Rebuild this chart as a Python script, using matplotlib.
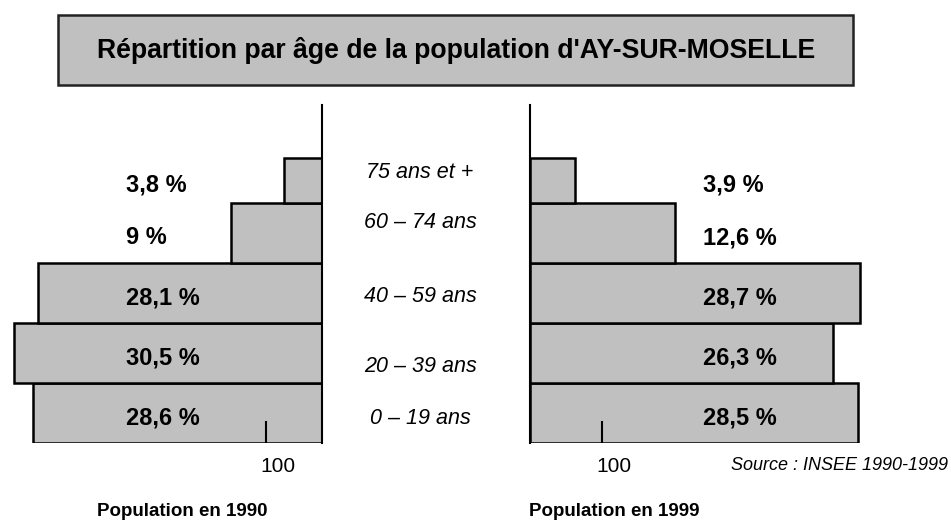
import matplotlib
matplotlib.use("Agg")
import matplotlib.pyplot as plt
from matplotlib.patches import Rectangle
from matplotlib.transforms import ScaledTranslation

plt.rcParams['font.family'] = ['Liberation Sans', 'DejaVu Sans']

# ---------------------------------------------------------------------------
# Data
# ---------------------------------------------------------------------------
age_groups = ['0 – 19 ans', '20 – 39 ans', '40 – 59 ans', '60 – 74 ans', '75 ans et +']
pop_1990 = [512, 546, 503, 161, 68]          # habitants
pop_1999 = [456, 421, 459, 202, 62]
pct_1990 = ['28,6 %', '30,5 %', '28,1 %', '9 %', '3,8 %']
pct_1999 = ['28,5 %', '26,3 %', '28,7 %', '12,6 %', '3,9 %']
tick_value = [100]

title = "Répartition par âge de la population d'AY-SUR-MOSELLE"
source = "Source : INSEE 1990-1999"

# ---------------------------------------------------------------------------
# Layout (pixels of the 951x529 picture)
# ---------------------------------------------------------------------------
W, H = 951, 529
def fx(px): return px / W
def fy(py): return 1 - py / H

bottoms = [0, 20, 40, 60, 80]
heights = [20, 20, 20, 20, 15]
GREY = '#c0c0c0'

fig = plt.figure(figsize=(W / 100, H / 100), dpi=100)

# title box
fig.patches.append(Rectangle((fx(58), fy(85)), fx(853) - fx(58), fy(15) - fy(85),
                             transform=fig.transFigure, facecolor=GREY,
                             edgecolor='#222222', lw=1.8))
fig.text(fx(456), fy(51), title, ha='center', va='center',
         fontsize=19.2, fontweight='bold')

ax_h = (443 - 105) / H
axL = fig.add_axes([0, fy(443), fx(322), ax_h])
axR = fig.add_axes([fx(530), fy(443), fx(951 - 530), ax_h])

# tick labels sit a little to the right of their tick
shift = ScaledTranslation(12 / 100, 0, fig.dpi_scale_trans)

for ax, vals, pcts, xmax, lab_x, side in [
        (axL, pop_1990, pct_1990, 322 / 0.565, 347, 'right'),
        (axR, pop_1999, pct_1999, 421 / 0.72, 240, 'left')]:
    ax.barh(bottoms, vals, height=heights, align='edge', color=GREY,
            edgecolor='black', linewidth=1.8, zorder=1)
    ax.set_ylim(0, 338 / 3)
    if side == 'right':
        ax.set_xlim(xmax, 0)
    else:
        ax.set_xlim(0, xmax)
    for s in ax.spines:
        ax.spines[s].set_visible(s == side)
    ax.spines[side].set_linewidth(1.5)
    ax.set_yticks([])
    ax.set_xticks(tick_value)
    ax.set_xticklabels([str(v) for v in tick_value])
    ax.tick_params(axis='x', direction='in', length=16, width=1.5,
                   labelsize=15, pad=10)
    for t in ax.get_xticklabels():
        t.set_transform(t.get_transform() + shift)
    ax.patch.set_alpha(0)
    for b, h, p in zip(bottoms, heights, pcts):
        ax.text(lab_x, b + h / 2 - 1.5, p, ha='left', va='center',
                fontsize=17, fontweight='bold', zorder=3)

# age group labels in the middle
for lab, py in zip(age_groups, [419, 366, 297, 222, 173]):
    fig.text(fx(420), fy(py), lab, ha='center', va='center',
             fontsize=15.5, style='italic')

fig.text(fx(182), fy(511), 'Population en 1990', ha='center', va='center',
         fontsize=13.5, fontweight='bold')
fig.text(fx(614), fy(511), 'Population en 1999', ha='center', va='center',
         fontsize=13.5, fontweight='bold')
fig.text(fx(948), fy(466), source, ha='right', va='center',
         fontsize=13, style='italic')

fig.savefig('out.png', dpi=100)
